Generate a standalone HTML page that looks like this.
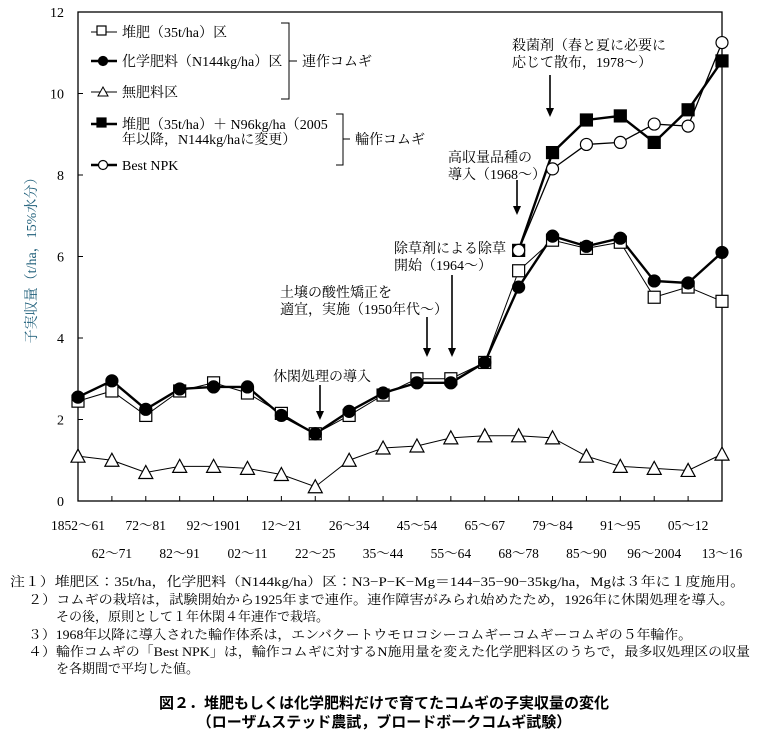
<!DOCTYPE html>
<html><head><meta charset="utf-8"><style>
body{margin:0;background:#fff;width:768px;height:740px;overflow:hidden}
svg{font-family:"Liberation Serif","Noto Serif CJK JP",serif}
</style></head><body>
<svg id="s" width="768" height="740" xmlns="http://www.w3.org/2000/svg"></svg>
<script>
const s=document.getElementById('s');let h='';
const X=i=>78+i*(722-78)/19, Y=v=>501-v*(489/12);
h+='<rect x="78" y="12" width="644" height="489" fill="none" stroke="#000" stroke-width="1.3"/>';
for(let v=0;v<=12;v+=2){h+=`<line x1="78" x2="83" y1="${Y(v)}" y2="${Y(v)}" stroke="#000"/><text x="64" y="${Y(v)+5}" font-size="14" text-anchor="end">${v}</text>`;}
for(let i=1;i<19;i++)h+=`<line x1="${X(i)}" x2="${X(i)}" y1="501" y2="496" stroke="#000"/>`;
const labs=["1852～61","62～71","72～81","82～91","92～1901","02～11","12～21","22～25","26～34","35～44","45～54","55～64","65～67","68～78","79～84","85～90","91～95","96～2004","05～12","13～16"];
labs.forEach((l,i)=>{h+=`<text x="${X(i)}" y="${i%2?558:530}" font-size="13.5" text-anchor="middle">${l}</text>`});
const comp=[2.45,2.7,2.1,2.7,2.9,2.65,2.15,1.65,2.1,2.6,3.0,3.0,3.4,5.65,6.4,6.2,6.35,5.0,5.25,4.9];
const chem=[2.55,2.95,2.25,2.75,2.8,2.8,2.1,1.65,2.2,2.65,2.9,2.9,3.4,5.25,6.5,6.25,6.45,5.4,5.35,6.1];
const none=[1.1,1.0,0.7,0.85,0.85,0.8,0.65,0.35,1.0,1.3,1.35,1.55,1.6,1.6,1.55,1.1,0.85,0.8,0.75,1.15];
const rot=[6.15,8.55,9.35,9.45,8.8,9.6,10.8], best=[6.15,8.15,8.75,8.8,9.25,9.2,11.25];
function line(d,off,w){return `<polyline fill="none" stroke="#000" stroke-width="${w}" points="${d.map((v,i)=>X(i+off)+','+Y(v)).join(' ')}"/>`;}
const sq=(x,y,f)=>`<rect x="${x-6}" y="${y-6}" width="12" height="12" fill="${f}" stroke="#000" stroke-width="1.2"/>`;
const ci=(x,y,f)=>`<circle cx="${x}" cy="${y}" r="6" fill="${f}" stroke="#000" stroke-width="1.2"/>`;
const tr=(x,y)=>`<polygon points="${x},${y-7} ${x-7},${y+6} ${x+7},${y+6}" fill="#fff" stroke="#000" stroke-width="1.2"/>`;
h+=line(none,0,1)+line(comp,0,1)+line(chem,0,2.4)+line(rot,13,2.4)+line(best,13,1.3);
none.forEach((v,i)=>h+=tr(X(i),Y(v)));
comp.forEach((v,i)=>h+=sq(X(i),Y(v),'#fff'));
chem.forEach((v,i)=>h+=ci(X(i),Y(v),'#000'));
rot.forEach((v,i)=>h+=sq(X(i+13),Y(v),'#000'));
best.forEach((v,i)=>h+=ci(X(i+13),Y(v),'#fff'));
const L=[[32,'堆肥（35t/ha）区',sq,'#fff',1],[61,'化学肥料（N144kg/ha）区',ci,'#000',2.4],[92,'無肥料区',tr,null,1],[124,'堆肥（35t/ha）＋ N96kg/ha（2005',sq,'#000',2.4],[165,'Best NPK',ci,'#fff',2.4]];
L.forEach(([y,t,f,c,w])=>{h+=`<line x1="91" x2="117" y1="${y}" y2="${y}" stroke="#000" stroke-width="${w}"/>`+(c?f(103,y,c).replace(/-6/g,'-4.5').replace(/"12"/g,'"9"').replace(/r="6"/,'r="4.5"'):`<polygon points="103,${y-5} 98,${y+4} 108,${y+4}" fill="#fff" stroke="#000"/>`)+`<text x="122" y="${y+5}" font-size="14">${t}</text>`});
h+=`<text x="122" y="144" font-size="14">年以降，N144kg/haに変更）</text>`;
h+=`<path d="M281 23 H289 V99 H281 M289 61 H297" fill="none" stroke="#000"/><text x="302" y="66" font-size="14">連作コムギ</text>`;
h+=`<path d="M336 114 H343 V165 H336 M343 139 H350" fill="none" stroke="#000"/><text x="355" y="144" font-size="14">輪作コムギ</text>`;
h+=`<text transform="translate(36,257) rotate(-90)" font-size="14" text-anchor="middle" fill="#1f5f7a">子実収量（t/ha，15%水分）</text>`;
const A=[[512,45,'殺菌剤（春と夏に必要に','応じて散布，1978～）'],[448,157,'高収量品種の','導入（1968～）'],[394,248,'除草剤による除草','開始（1964～）'],[280,292,'土壌の酸性矯正を','適宜，実施（1950年代～）'],[273,376,'休閑処理の導入','']];
A.forEach(([x,y,a,b])=>{h+=`<text x="${x}" y="${y+5}" font-size="14">${a}</text><text x="${x}" y="${y+22}" font-size="14">${b}</text>`});
const ar=(x,y1,y2)=>`<line x1="${x}" x2="${x}" y1="${y1}" y2="${y2-8}" stroke="#000" stroke-width="1.6"/><polygon points="${x-4},${y2-9} ${x+4},${y2-9} ${x},${y2}" fill="#000"/>`;
h+=ar(550,75,117)+ar(517,180,215)+ar(452,275,357)+ar(427,317,357)+ar(320,385,420);
const N=[[10,586,'注１）堆肥区：35t/ha，化学肥料（N144kg/ha）区：N3−P−K−Mg＝144−35−90−35kg/ha，Mgは３年に１度施用。',735],[28,604,'２）コムギの栽培は，試験開始から1925年まで連作。連作障害がみられ始めたため，1926年に休閑処理を導入。',706],[56,621,'その後，原則として１年休閑４年連作で栽培。',0],[28,639,'３）1968年以降に導入された輪作体系は，エンバクートウモロコシーコムギーコムギーコムギの５年輪作。',664],[28,656,'４）輪作コムギの「Best NPK」は，輪作コムギに対するN施用量を変えた化学肥料区のうちで，最多収処理区の収量',722],[56,673,'を各期間で平均した値。',0]];
N.forEach(([x,y,t,w])=>h+=`<text x="${x}" y="${y}" font-size="13" ${w?`textLength="${w}" lengthAdjust="spacingAndGlyphs"`:''}>${t}</text>`);
h+=`<text x="384" y="708" font-size="15" font-weight="bold" text-anchor="middle" font-family="Liberation Sans,Noto Sans CJK JP,sans-serif">図２．堆肥もしくは化学肥料だけで育てたコムギの子実収量の変化</text>`;
h+=`<text x="384" y="727" font-size="15" font-weight="bold" text-anchor="middle" font-family="Liberation Sans,Noto Sans CJK JP,sans-serif">（ローザムステッド農試，ブロードボークコムギ試験）</text>`;
s.innerHTML=h;
</script>
</body></html>
